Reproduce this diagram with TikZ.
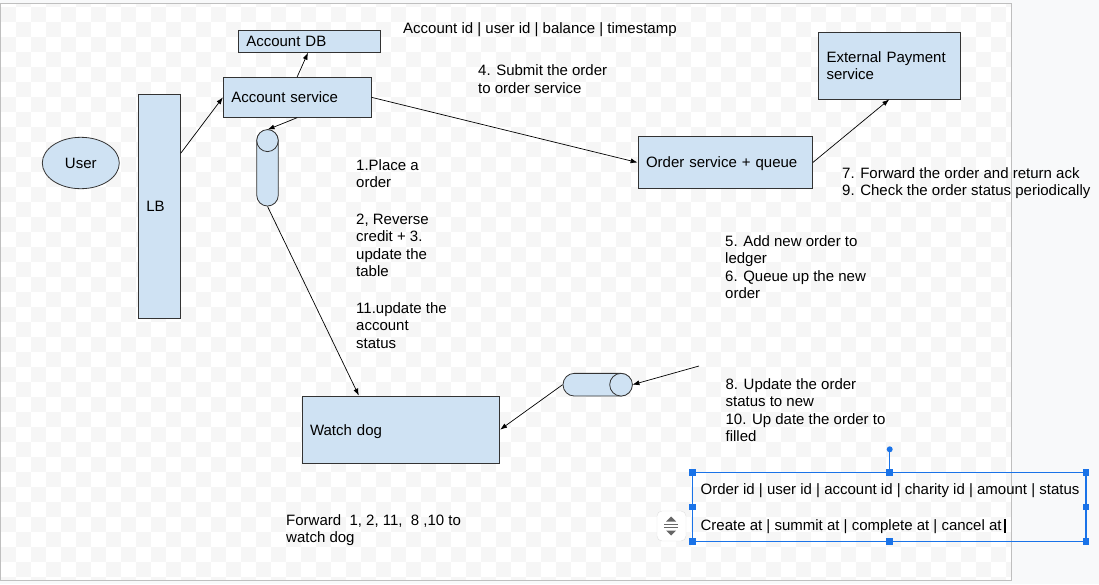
\documentclass[tikz,border=0pt]{standalone}
\usepackage{fontspec}
\setmainfont{Liberation Sans}
\usetikzlibrary{shapes.geometric,arrows.meta}
\definecolor{boxblue}{RGB}{207,226,243}
\definecolor{selblue}{RGB}{26,115,232}
\definecolor{pagegray}{RGB}{248,249,250}
\definecolor{checkgray}{RGB}{246,246,246}
\begin{document}
\begin{tikzpicture}[x=1pt,y=-1pt,
  box/.style={draw=black!80,line width=0.8pt,fill=boxblue,inner xsep=8pt,inner ysep=0pt,align=left,font=\fontsize{15}{17.5}\selectfont},
  oneline/.style={text height=10.7pt,text depth=0pt},
  cyl/.style={draw=black!80,line width=0.8pt,fill=boxblue,inner sep=0pt},
  txt/.style={anchor=base west,inner sep=0pt,align=left,font=\fontsize{15}{17.5}\selectfont},
  arr/.style={-{Latex[length=7pt,width=5pt]},line width=0.7pt},
  handle/.style={fill=selblue,minimum size=6.5pt,inner sep=0pt}]
\useasboundingbox (0,0) rectangle (1099,584);
\fill[pagegray] (0,0) rectangle (1099,584);

  %% canvas with checker pattern
  \fill[white] (1,3) rectangle (1011,580.5);
  \begin{scope}
  \clip (1,3) rectangle (1011,580.5);
  \foreach \i in {0,...,67} \foreach \j in {-1,...,38} {\ifodd\numexpr\i+\j\relax\else \fill[checkgray] (1+15*\i,6.67+15*\j) rectangle +(15,15);\fi}
  \end{scope}
  \draw[black!25,line width=1pt] (0.5,3.3) rectangle (1011.5,580.8);

  %% boxes
  \node[box,oneline,minimum height=22.3pt,text width=126.4pt] (db) at (309.5,41.15) {Account DB};
  \node[box,oneline,minimum height=40pt,text width=131.7pt] (as) at (297.15,97.3) {Account service};
  \node[box,oneline,minimum height=224pt,text width=26pt] (lb) at (159.3,206.3) {LB};
  \node[box,oneline,ellipse,minimum width=77pt,minimum height=51.4pt,align=center,inner sep=0pt] (user) at (80.8,163) {User};
  \node[box,oneline,minimum height=51.6pt,text width=158.4pt] (os) at (725.2,162.5) {Order service + queue};
  \node[box,minimum height=66.7pt,text width=125.5pt] (ep) at (889.25,65.65) {External Payment\\service};
  \node[box,oneline,minimum height=67.3pt,text width=181.7pt] (wd) at (400.85,429.65) {Watch dog};

  %% queues
  \node[cyl,minimum width=21.5pt,minimum height=76pt,rounded corners=10.7pt] (vcyl) at (267.5,168) {};
  \draw[cyl] ([yshift=-11pt]vcyl.north) ellipse (10.75pt and 11pt);
  \node[cyl,minimum width=69pt,minimum height=22.7pt,rounded corners=11.3pt] (hcyl) at (597.5,384.7) {};
  \draw[cyl] ([xshift=-11.35pt]hcyl.east) circle (11.35pt);

  %% texts
  \node[txt] (schema) at (403,33) {Account id | user id | balance | timestamp};
  \node[txt] (step4) at (478,93) {4. Submit the order\\to order service};
  \node[txt] (step1) at (356,187.5) {1.Place a\\order};
  \node[txt] (step23) at (356,276.5) {2, Reverse\\credit + 3.\\update the\\table};
  \node[txt] (step11) at (356,348) {11.update the\\account\\status};
  \node[txt] (step79) at (842,195.5) {7. Forward the order and return ack\\9. Check the order status periodically};
  \node[txt] (step56) at (725,298.5) {5. Add new order to\\ledger\\6. Queue up the new\\order};
  \node[txt] (step810) at (725.4,441.5) {8. Update the order\\status to new\\10. Up date the order to\\filled};
  \node[txt] (fwd) at (286,542.5) {Forward~ 1, 2, 11,~ 8 ,10 to\\watch dog};
  \node[txt] (ordcols) at (700.4,494) {Order id | user id | account id | charity id | amount | status};
  \node[txt] (ordtimes) at (700.4,530) {Create at | summit at | complete at | cancel at};

  %% connectors
  \coordinate (statusin) at (699,366);
  \draw[arr] ([yshift=53pt]lb.east) -- (as.west);
  \draw[arr] (as.north) -- ([xshift=-1.5pt]db.south);
  \draw[arr] (as.south) -- (vcyl.north);
  \draw[arr] (as.east) -- (os.west);
  \draw[arr] (vcyl.south) -- ([xshift=-42pt]wd.north);
  \draw[arr] (os.east) -- (ep.south);
  \draw[arr] (statusin) -- (hcyl.east);
  \draw[arr] (hcyl.west) -- (wd.east);

  %% text box selection
  \draw[selblue,line width=1.2pt] (692.6,472.3) rectangle (1086,541.7);
  \draw[selblue,line width=1pt] (889.7,472.3) -- (889.7,449.3);
  \fill[selblue] (889.7,449.3) circle (3);
  \foreach \x in {692.6,889.3,1086} \foreach \y in {472.3,541.7} \node[handle] at (\x,\y) {};
  \foreach \x in {692.6,1086} \node[handle] at (\x,507) {};
  \draw[line width=1.2pt] (1005,519) -- (1005,533);
  \draw[black!12,fill=white,rounded corners=5pt] (657,511) rectangle (686,541);
  \fill[black!60] (666,521.5) -- (676,521.5) -- (671,516.5) -- cycle;
  \fill[black!60] (666,530.5) -- (676,530.5) -- (671,535.5) -- cycle;
  \draw[black!60,line width=1pt] (664,524.5) -- (678,524.5) (664,527.5) -- (678,527.5);
\end{tikzpicture}
\end{document}
